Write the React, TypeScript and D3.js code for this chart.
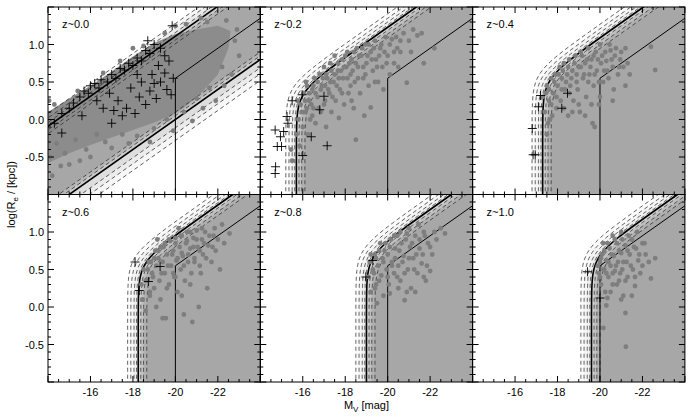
import React, { useEffect, useRef } from 'react';
import * as d3 from 'd3';

// panel labels
const panelLabels = ['z~0.0', 'z~0.2', 'z~0.4', 'z~0.6', 'z~0.8', 'z~1.0'];
// magnitude limit (vertical part of the thick selection curve), panels 2-6
const magLimits = [NaN, -15.7, -17.3, -18.25, -19.0, -19.6];
// M at which the surface-brightness limit crosses log(Re)=0, panels 2-6
const sbLimits = [NaN, -13.85, -14.55, -15.2, -15.5, -16.15];
// z~0.0 panel: log(Re) of the two SB lines at M=-20
const localUpper = 1.11;
const localLower = 0.0;
// thin reference line: vertical at M=-20 up to the knee, then along the SB slope
const refMag = -20;
const refKnee = 0.55;
const sbSlope = 0.2;
// dashed realisations of the selection curve (outermost -> innermost), thick = 0,0
const layerMag = [-0.5, -0.35, -0.2, -0.08, 0, 0.12, 0.25, 0.4];
const layerSb = [-0.9, -0.6, -0.35, -0.15, 0, 0.2, 0.45, 0.7];
const layerShade = ['#fbfbfb', '#f5f5f5', '#eeeeee', '#e3e3e3', '#d2d2d2', '#c0c0c0', '#b0b0b0', '#a7a7a7'];
// z~0.0 bands
const bandUpper = [0.17, 0.11, 0.05, 0, -0.05, -0.1];
const bandLower = [-0.28, -0.19, -0.11, 0, 0.05, 0.1];
const bandShade = ['#f7f7f7', '#ececec', '#dedede', '#cbcbcb', '#b6b6b6', '#a7a7a7'];

const xTicks = [-16, -18, -20, -22];
const yTicks = [-0.5, 0.0, 0.5, 1.0];

// dense local cloud (z~0.0)
const cloud0 = [
  [-14, 0.1], [-15, 0.28], [-16, 0.45], [-17, 0.64], [-18, 0.84], [-19, 1.02], [-20, 1.14], [-21, 1.2],
  [-22, 1.25], [-22.6, 1.18], [-22.5, 0.95], [-22.0, 0.6], [-21.2, 0.35], [-20.5, 0.18], [-20, 0.08],
  [-19, -0.04], [-18, -0.14], [-17, -0.24], [-16, -0.34], [-15, -0.45], [-14, -0.58],
];
const dots0 = [
  [-14.1, -0.5], [-14.4, -0.32], [-14.8, -0.45], [-15.3, -0.27], [-15.8, -0.4], [-16.3, -0.2], [-16.7, -0.3],
  [-17.5, -0.2], [-18.2, -0.22], [-19.0, -0.12], [-19.6, 0.0], [-20.4, 0.1], [-21.0, 0.28], [-21.6, 0.42],
  [-22.2, 0.7], [-22.8, 1.05], [-22.9, 1.2], [-22.4, 1.32], [-21.5, 1.3], [-20.5, 1.27], [-19.5, 1.15],
  [-14.3, 0.2], [-15.4, 0.38], [-17.4, 0.78], [-18.5, 0.98], [-14.2, -0.75], [-14.6, -0.62], [-15.5, -0.55],
  [-16.0, -0.5], [-17.0, -0.38], [-18.8, -0.3], [-19.9, -0.15], [-21.3, 0.15], [-22.3, 0.45], [-23.0, 0.85],
  [-21.9, 0.25], [-20.8, -0.02], [-14.05, 0.25], [-16.6, 0.62], [-18.0, 0.95], [-20.0, 1.25], [-21.2, 1.35],
  [-15.0, -0.6], [-17.8, -0.32], [-22.65, 0.6],
];
const crosses0 = [
  [-14.3, -0.05], [-14.65, 0.08], [-14.65, -0.18], [-15.0, 0.15], [-15.2, 0.22], [-15.5, 0.3], [-15.7, 0.38],
  [-15.9, 0.35], [-16.0, 0.45], [-16.2, 0.48], [-16.4, 0.42], [-16.5, 0.53], [-16.8, 0.5], [-17.0, 0.6],
  [-17.2, 0.55], [-17.4, 0.68], [-17.6, 0.66], [-17.8, 0.75], [-18.0, 0.72], [-18.2, 0.82], [-18.4, 0.78],
  [-18.6, 0.92], [-18.8, 0.88], [-19.0, 1.0], [-19.3, 0.95], [-19.85, 1.25], [-18.7, 1.05], [-19.5, 0.85],
  [-16.9, 0.35], [-17.1, 0.12], [-17.3, 0.25], [-17.5, 0.05], [-17.7, 0.15], [-17.9, 0.42], [-18.1, 0.08],
  [-18.3, 0.3], [-18.4, 0.5], [-18.6, 0.2], [-18.8, 0.38], [-18.9, 0.6], [-19.1, 0.28], [-19.2, 0.72],
  [-19.3, 0.5], [-19.5, 0.62], [-19.6, 0.4], [-19.8, 0.33], [-19.9, 0.55], [-19.7, 0.78], [-16.3, 0.25],
  [-15.6, 0.05], [-17.0, -0.05], [-18.2, 0.6], [-19.0, 0.48], [-16.6, 0.15],
];

const dots1 = [
  [-15.5, -0.55], [-15.45, -0.4], [-15.7, -0.2], [-15.8, 0.0], [-15.85, -0.35], [-15.9, 0.2], [-16.0, -0.1],
  [-16.05, 0.35], [-16.1, 0.1], [-16.2, 0.45], [-16.25, -0.2], [-16.3, 0.25], [-16.35, 0.0], [-16.45, 0.4],
  [-16.5, 0.15], [-16.55, 0.55], [-16.6, -0.05], [-16.7, 0.3], [-16.8, 0.6], [-16.85, 0.1], [-16.9, 0.45],
  [-17.0, 0.7], [-17.05, 0.25], [-17.1, -0.1], [-17.15, 0.55], [-17.25, 0.35], [-17.3, 0.75], [-17.35, 0.1],
  [-17.45, 0.5], [-17.5, 0.85], [-17.55, 0.25], [-17.65, 0.65], [-17.7, 0.02], [-17.75, 0.4], [-17.85, 0.8],
  [-17.9, 0.55], [-17.95, 0.2], [-18.05, 0.7], [-18.1, 0.9], [-18.15, 0.35], [-18.25, 0.6], [-18.3, 0.8],
  [-18.4, 0.15], [-18.45, 0.5], [-18.5, -0.27], [-18.55, 0.95], [-18.6, 0.7], [-18.7, 0.35], [-18.75, 0.85],
  [-18.85, 0.55], [-18.9, 0.05], [-18.95, 1.0], [-19.0, 0.75], [-19.1, 0.45], [-19.2, 0.16], [-19.2, 0.9],
  [-19.3, 0.65], [-19.4, 1.05], [-19.45, 0.8], [-19.55, 0.5], [-19.65, 0.95], [-19.75, 0.7], [-19.8, 0.4],
  [-19.9, 1.1], [-20.0, 0.85], [-20.1, 0.6], [-20.2, 1.07], [-20.3, 0.75], [-20.45, 0.95], [-20.6, 0.9],
  [-20.75, 1.15], [-20.9, 0.49], [-21.0, 1.05], [-21.2, 1.2], [-21.4, 1.12], [-21.7, 0.75], [-22.2, 0.95],
];
const dense1 = [
  [-16.1, 0.25], [-16.2, 0.15], [-16.3, 0.35], [-16.4, 0.2], [-16.5, 0.45], [-16.6, 0.35], [-16.7, 0.5],
  [-16.75, 0.15], [-16.85, 0.4], [-16.95, 0.55], [-17.05, 0.45], [-17.1, 0.6], [-17.2, 0.4], [-17.3, 0.5],
  [-17.35, 0.65], [-17.4, 0.3], [-17.5, 0.6], [-17.6, 0.45], [-17.65, 0.75], [-17.7, 0.55], [-17.8, 0.65],
  [-17.85, 0.35], [-17.95, 0.7], [-18.0, 0.85], [-18.1, 0.55], [-18.2, 0.75], [-18.25, 0.45], [-18.35, 0.65],
  [-18.4, 0.9], [-18.5, 0.75], [-18.6, 0.55], [-18.65, 0.85], [-18.8, 0.95], [-18.85, 0.7], [-18.95, 0.6],
  [-19.05, 0.85], [-19.1, 1.0], [-19.25, 0.8], [-19.35, 0.95], [-19.5, 0.7], [-19.6, 0.85], [-19.7, 1.0],
  [-19.85, 0.9], [-19.95, 0.75], [-20.1, 1.0], [-20.3, 0.9], [-20.4, 1.1], [-20.6, 1.05], [-16.15, 0.5],
  [-15.95, 0.1], [-15.75, 0.25], [-16.45, 0.05], [-17.0, 0.2], [-18.3, 0.25], [-19.4, 0.5], [-20.5, 0.7],
  [-21.1, 0.9], [-21.6, 1.15],
];
const crosses1 = [
  [-15.97, 0.33], [-17.0, 0.31], [-15.26, 0.04], [-15.1, -0.16], [-14.7, -0.14], [-14.95, -0.23],
  [-14.8, -0.36], [-15.0, -0.36], [-14.7, -0.72], [-14.72, -0.63], [-16.4, -0.23], [-17.15, -0.35],
  [-16.0, -0.48], [-16.8, 0.13], [-15.3, -0.05], [-15.5, 0.25],
];

const dots2 = [
  [-17.3, 0.3], [-17.4, 0.1], [-17.5, 0.45], [-17.55, -0.05], [-17.6, 0.25], [-17.7, 0.55], [-17.75, 0.05],
  [-17.8, 0.35], [-17.9, 0.6], [-17.95, 0.15], [-18.0, 0.45], [-18.1, 0.7], [-18.15, 0.25], [-18.2, 0.55],
  [-18.3, 0.75], [-18.35, 0.4], [-18.45, 0.6], [-18.5, 0.05], [-18.55, 0.8], [-18.6, 0.45], [-18.7, 0.65],
  [-18.75, 0.25], [-18.85, 0.85], [-18.9, 0.5], [-19.0, 0.7], [-19.05, 0.1], [-19.1, 0.9], [-19.2, 0.55],
  [-19.3, 0.75], [-19.35, 0.3], [-19.45, 0.95], [-19.5, 0.6], [-19.6, 0.8], [-19.65, -0.05], [-19.7, 0.45],
  [-19.8, 0.9], [-19.85, 0.65], [-19.95, 0.2], [-20.0, 1.0], [-20.05, 0.75], [-20.15, 0.5], [-20.25, 0.9],
  [-20.35, 0.65], [-20.45, 1.0], [-20.55, 0.8], [-20.65, 0.4], [-20.75, 0.95], [-20.9, 0.7], [-21.0, 0.9],
  [-21.2, 0.45], [-21.3, 0.75], [-22.4, 0.97], [-22.6, 0.66], [-19.75, -0.1], [-19.3, 0.05],
];
const dense2 = [
  [-17.45, 0.35], [-17.6, 0.4], [-17.7, 0.2], [-17.85, 0.5], [-17.95, 0.3], [-18.05, 0.6], [-18.2, 0.4],
  [-18.25, 0.65], [-18.4, 0.5], [-18.5, 0.7], [-18.55, 0.35], [-18.65, 0.55], [-18.8, 0.75], [-18.9, 0.6],
  [-18.95, 0.4], [-19.1, 0.7], [-19.15, 0.85], [-19.25, 0.6], [-19.4, 0.8], [-19.45, 0.5], [-19.55, 0.7],
  [-19.7, 0.85], [-19.75, 0.6], [-19.9, 0.8], [-19.95, 0.5], [-20.1, 0.85], [-20.2, 0.65], [-20.3, 0.78],
  [-20.4, 0.55], [-20.5, 0.92], [-20.6, 0.7], [-20.7, 0.85], [-20.85, 0.6], [-20.95, 0.8], [-21.1, 0.7],
  [-21.2, 0.95], [-21.4, 0.6], [-18.3, 0.15], [-18.7, 0.1], [-19.0, 0.2], [-19.6, 0.2], [-20.0, 0.3],
  [-20.6, 0.25], [-17.5, -0.2], [-17.65, 0.0],
];
const crosses2 = [[-18.47, 0.35], [-16.81, -0.12], [-16.85, -0.47], [-16.95, -0.47], [-17.1, 0.17], [-18.2, 0.15], [-17.2, 0.32]];

const dots3 = [
  [-18.4, 0.3], [-18.45, 0.1], [-18.5, 0.5], [-18.6, -0.05], [-18.7, 0.35], [-18.75, 0.6], [-18.8, 0.15],
  [-18.9, 0.45], [-19.0, 0.65], [-19.0, 0.25], [-19.1, 0.55], [-19.2, 0.75], [-19.25, 0.35], [-19.3, 0.1],
  [-19.4, 0.6], [-19.45, 0.8], [-19.5, 0.45], [-19.55, -0.15], [-19.6, 0.7], [-19.7, 0.3], [-19.75, 0.88],
  [-19.8, 0.55], [-19.9, 0.75], [-19.95, 0.4], [-20.0, 0.92], [-20.05, 0.62], [-20.1, 0.2], [-20.2, 0.8],
  [-20.25, 0.5], [-20.3, 0.95], [-20.35, 0.68], [-20.45, 0.35], [-20.5, 0.85], [-20.55, 1.0], [-20.6, 0.6],
  [-20.7, 0.78], [-20.75, 0.45], [-20.8, -0.2], [-20.85, 0.92], [-20.9, 0.65], [-21.0, 1.02], [-21.05, 0.8],
  [-21.1, 0.0], [-21.15, 0.55], [-21.25, 0.9], [-21.3, 0.7], [-21.4, 1.0], [-21.5, 0.25], [-21.55, 0.82],
  [-21.7, 0.6], [-21.8, 0.95], [-21.9, 0.75], [-22.1, 0.5], [-22.3, 0.85], [-22.55, 0.98], [-19.4, -0.15],
  [-20.3, 0.15], [-19.15, 0.9], [-20.15, 1.05],
];
const dense3 = [
  [-18.6, 0.35], [-18.7, 0.5], [-18.85, 0.6], [-18.95, 0.4], [-19.05, 0.75], [-19.2, 0.65], [-19.3, 0.8],
  [-19.35, 0.45], [-19.5, 0.85], [-19.65, 0.55], [-19.7, 0.9], [-19.85, 0.7], [-19.9, 0.45], [-20.0, 0.85],
  [-20.1, 0.65], [-20.25, 0.95], [-20.3, 0.72], [-20.4, 0.55], [-20.55, 0.88], [-20.6, 0.7], [-20.7, 1.0],
  [-20.85, 0.8], [-20.9, 0.6], [-21.0, 0.9], [-21.15, 0.75], [-21.25, 1.05], [-21.35, 0.85], [-21.45, 0.65],
  [-21.6, 0.95], [-21.75, 0.8], [-21.85, 1.05], [-22.0, 0.9], [-22.2, 1.1], [-20.0, 0.4], [-20.7, 0.3],
  [-21.2, 0.45], [-19.6, 0.25], [-18.8, 0.2], [-19.1, 0.0], [-20.4, -0.1],
];
const crosses3 = [[-18.1, 0.6], [-19.28, 0.54], [-18.73, 0.34], [-18.3, 0.22]];

const dots4 = [
  [-19.1, 0.4], [-19.15, 0.6], [-19.2, 0.2], [-19.3, 0.5], [-19.4, 0.7], [-19.45, 0.3], [-19.55, 0.55],
  [-19.6, 0.75], [-19.7, 0.42], [-19.75, 0.65], [-19.8, 0.15], [-19.9, 0.85], [-19.95, 0.5], [-20.0, 0.7],
  [-20.05, 0.3], [-20.15, 0.9], [-20.2, 0.6], [-20.3, 0.45], [-20.35, 0.78], [-20.45, 0.95], [-20.5, 0.55],
  [-20.6, 0.35], [-20.65, 0.85], [-20.75, 0.68], [-20.8, 0.09], [-20.9, 0.98], [-20.95, 0.5], [-21.05, 0.8],
  [-21.1, 0.25], [-21.2, 0.65], [-21.3, 0.95], [-21.4, 0.45], [-21.5, 0.78], [-21.6, 0.58], [-21.7, 1.0],
  [-21.8, 0.35], [-21.9, 0.85], [-22.1, 0.7], [-22.3, 0.9], [-22.5, 1.05], [-22.7, 0.98], [-19.5, 0.05],
  [-20.1, 0.18], [-21.3, 0.2], [-22.0, 0.48],
];
const dense4 = [
  [-19.2, 0.7], [-19.35, 0.45], [-19.45, 0.65], [-19.6, 0.35], [-19.65, 0.85], [-19.8, 0.6], [-19.85, 0.75],
  [-20.0, 0.4], [-20.1, 0.8], [-20.2, 0.55], [-20.3, 0.95], [-20.35, 0.65], [-20.45, 0.4], [-20.55, 0.75],
  [-20.6, 1.0], [-20.7, 0.6], [-20.8, 0.45], [-20.85, 0.9], [-21.0, 0.65], [-21.0, 1.05], [-21.15, 0.85],
  [-21.25, 0.5], [-21.35, 0.7], [-21.45, 1.1], [-21.5, 0.9], [-21.65, 0.7], [-21.75, 0.95], [-21.85, 0.55],
  [-22.0, 0.8], [-22.2, 1.0], [-19.4, 0.25], [-20.5, 0.25], [-21.7, 0.4], [-20.9, 0.2],
];
const crosses4 = [[-18.97, 0.4], [-19.3, 0.62]];

const dots5 = [
  [-19.95, 0.45], [-20.0, 0.6], [-20.05, 0.3], [-20.1, 0.7], [-20.2, 0.5], [-20.25, 0.2], [-20.3, 0.62],
  [-20.4, 0.4], [-20.45, 0.78], [-20.5, 0.55], [-20.6, 0.3], [-20.65, 0.68], [-20.7, 0.48], [-20.8, 0.85],
  [-20.85, 0.6], [-20.9, 0.35], [-21.0, 0.72], [-21.05, 0.5], [-21.1, 0.15], [-21.2, 0.82], [-21.25, 0.6],
  [-21.3, 0.4], [-21.4, 0.7], [-21.5, 0.9], [-21.55, 0.5], [-21.65, 0.28], [-21.7, 0.78], [-21.8, 0.62],
  [-21.9, 0.45], [-22.0, 0.85], [-22.15, 0.7], [-22.4, 0.38], [-22.6, 0.65], [-21.22, -0.53], [-21.2, -0.08],
  [-20.16, -0.28], [-20.3, 0.02], [-20.15, 0.85], [-20.6, 0.95], [-21.0, 1.0], [-20.35, 0.12],
];
const dense5 = [
  [-19.9, 0.55], [-20.0, 0.4], [-20.05, 0.65], [-20.15, 0.5], [-20.2, 0.75], [-20.3, 0.45], [-20.35, 0.85],
  [-20.4, 0.6], [-20.55, 0.7], [-20.6, 0.45], [-20.7, 0.9], [-20.75, 0.55], [-20.9, 0.75], [-20.95, 0.45],
  [-21.05, 0.9], [-21.1, 0.6], [-21.2, 0.35], [-21.3, 0.75], [-21.35, 0.95], [-21.45, 0.55], [-21.6, 0.8],
  [-21.65, 0.4], [-21.75, 1.0], [-21.85, 0.7], [-22.0, 0.55], [-22.1, 0.85], [-22.3, 0.6], [-20.5, 0.2],
  [-21.0, 0.1], [-20.8, 0.3], [-21.5, 0.15],
];
const crosses5 = [[-19.41, 0.47], [-20.0, 0.12]];

const panelDots = [dots0, dots1.concat(dense1), dots2.concat(dense2), dots3.concat(dense3), dots4.concat(dense4), dots5.concat(dense5)];
const panelCrosses = [crosses0, crosses1, crosses2, crosses3, crosses4, crosses5];

// selection curve: smooth max of the magnitude limit and the SB limit
function boundaryM(L, magLim, sbLim, soft) {
  const a = -magLim;
  const b = -sbLim + L / sbSlope;
  const m = Math.max(a, b);
  return -(m + soft * Math.log(Math.exp((a - m) / soft) + Math.exp((b - m) / soft)));
}

export default function App() {
  const ref = useRef(null);
  useEffect(() => {
    draw();
    // eslint-disable-next-line react-hooks/exhaustive-deps
  }, []);

  function draw() {
    const svg = d3.select(ref.current);
    svg.selectAll('*').remove();
    const font = '"Liberation Sans", Arial, Helvetica, sans-serif';
    const left0 = 48;
    const top0 = 7;
    const pw = 212.3;
    const ph = 187.5;
    const x = d3.scaleLinear().domain([-14, -24]).range([0, pw]);
    const y = d3.scaleLinear().domain([-1, 1.5]).range([ph, 0]);
    const line = d3.line().x((d) => x(d[0])).y((d) => y(d[1]));
    const levels = d3.range(-1.05, 1.56, 0.02);
    const sbLine = (c, M) => c + sbSlope * (-M + refMag);
    const dashStyle = (p) => p.attr('fill', 'none').attr('stroke', '#2a2a2a').attr('stroke-width', 0.75).attr('stroke-dasharray', '4 3');

    panelLabels.forEach((label, i) => {
      const col = i % 3;
      const row = Math.floor(i / 3);
      const g = svg.append('g').attr('transform', `translate(${left0 + col * pw},${top0 + row * ph})`);
      g.append('clipPath').attr('id', `clip${i}`).append('rect').attr('width', pw).attr('height', ph);
      const inner = g.append('g').attr('clip-path', `url(#clip${i})`);

      if (i === 0) {
        const band = (cu, cl) => [
          [-13.5, sbLine(cu, -13.5)], [-24.5, sbLine(cu, -24.5)],
          [-24.5, sbLine(cl, -24.5)], [-13.5, sbLine(cl, -13.5)],
        ];
        bandUpper.forEach((du, k) => {
          inner.append('path').attr('d', line(band(localUpper + du, localLower + bandLower[k])) + 'Z').attr('fill', bandShade[k]);
        });
        inner.append('path').attr('d', line(cloud0) + 'Z').attr('fill', '#8c8c8c');
        const dashes = bandUpper.filter((d) => d !== 0).map((d) => localUpper + d)
          .concat(bandLower.filter((d) => d !== 0).map((d) => localLower + d));
        dashes.forEach((c) => {
          dashStyle(inner.append('path').attr('d', line([[-13.5, sbLine(c, -13.5)], [-24.5, sbLine(c, -24.5)]])));
        });
        [localUpper, localLower].forEach((c) => {
          inner.append('path').attr('d', line([[-13.5, sbLine(c, -13.5)], [-24.5, sbLine(c, -24.5)]]))
            .attr('fill', 'none').attr('stroke', '#000').attr('stroke-width', 1.6);
        });
      } else {
        const curve = (k) => levels.map((L) => [boundaryM(L, magLimits[i] - layerMag[k], sbLimits[i] - layerSb[k], 0.6), L]);
        layerMag.forEach((_, k) => {
          inner.append('path').attr('d', line(curve(k).concat([[-24.5, 1.56], [-24.5, -1.06]])) + 'Z').attr('fill', layerShade[k]);
        });
        layerMag.forEach((dm, k) => {
          if (dm === 0 && layerSb[k] === 0) return;
          dashStyle(inner.append('path').attr('d', line(curve(k))));
        });
        const thickIdx = layerMag.findIndex((d, k) => d === 0 && layerSb[k] === 0);
        inner.append('path').attr('d', line(curve(thickIdx))).attr('fill', 'none').attr('stroke', '#000').attr('stroke-width', 1.6);
      }

      // thin reference line
      inner.append('path')
        .attr('d', line([[refMag, -1.1], [refMag, refKnee], [-24.5, sbLine(refKnee, -24.5)]]))
        .attr('fill', 'none').attr('stroke', '#000').attr('stroke-width', 1);

      inner.selectAll('circle.pt').data(panelDots[i]).join('circle')
        .attr('cx', (d) => x(d[0])).attr('cy', (d) => y(d[1])).attr('r', 2.4).attr('fill', '#7e7e7e');

      inner.selectAll('path.cross').data(panelCrosses[i]).join('path')
        .attr('d', (d) => {
          const cx = x(d[0]);
          const cy = y(d[1]);
          return `M${cx - 4.5},${cy}H${cx + 4.5}M${cx},${cy - 4.5}V${cy + 4.5}`;
        })
        .attr('stroke', '#000').attr('stroke-width', 0.9).attr('fill', 'none');

      // frame and ticks on all sides
      const ax = g.append('g').attr('stroke', '#000').attr('stroke-width', 1);
      ax.append('rect').attr('width', pw).attr('height', ph).attr('fill', 'none');
      d3.range(-14, -24.01, -0.5).forEach((m) => {
        const len = Math.abs(m % 2) < 1e-6 ? 6 : 3;
        ax.append('line').attr('x1', x(m)).attr('x2', x(m)).attr('y1', ph).attr('y2', ph - len);
        ax.append('line').attr('x1', x(m)).attr('x2', x(m)).attr('y1', 0).attr('y2', len);
      });
      d3.range(-1, 1.501, 0.1).forEach((v) => {
        const major = Math.abs(Math.round(v * 2) - v * 2) < 1e-6;
        const len = major ? 6 : 3;
        ax.append('line').attr('x1', 0).attr('x2', len).attr('y1', y(v)).attr('y2', y(v));
        ax.append('line').attr('x1', pw).attr('x2', pw - len).attr('y1', y(v)).attr('y2', y(v));
      });

      g.append('text').attr('x', 14).attr('y', 21).attr('font-family', font).attr('font-size', 11).text(label);

      if (col === 0) {
        g.selectAll('text.yt').data(yTicks).join('text')
          .attr('x', -4).attr('y', (d) => y(d) + 4).attr('text-anchor', 'end')
          .attr('font-family', font).attr('font-size', 11).text((d) => d.toFixed(1));
      }
      if (row === 1) {
        g.selectAll('text.xt').data(xTicks).join('text')
          .attr('x', (d) => x(d)).attr('y', ph + 14).attr('text-anchor', 'middle')
          .attr('font-family', font).attr('font-size', 11).text((d) => String(d));
      }
    });

    const yl = svg.append('text').attr('transform', `translate(15,${top0 + ph}) rotate(-90)`)
      .attr('text-anchor', 'middle').attr('font-family', font).attr('font-size', 11);
    yl.append('tspan').text('log(R');
    yl.append('tspan').attr('dy', 3).attr('font-size', 8).text('e');
    yl.append('tspan').attr('dy', -3).text(' / [kpc])');

    const xl = svg.append('text').attr('x', left0 + 1.5 * pw).attr('y', 409)
      .attr('text-anchor', 'middle').attr('font-family', font).attr('font-size', 11);
    xl.append('tspan').text('M');
    xl.append('tspan').attr('dy', 3).attr('font-size', 8).text('V');
    xl.append('tspan').attr('dy', -3).text(' [mag]');
  }

  return (
    <svg ref={ref} width={692} height={420} style={{ position: 'absolute', left: 0, top: 0, background: '#fff' }} />
  );
}
